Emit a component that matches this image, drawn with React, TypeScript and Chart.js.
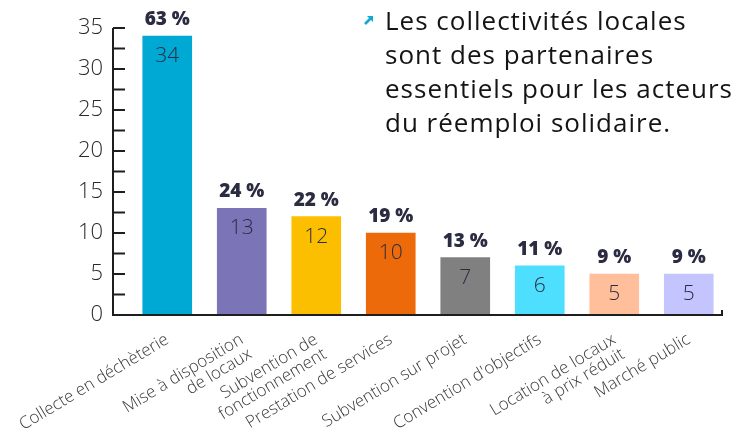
import React, { useEffect, useRef } from "react";
import { Chart, registerables } from "chart.js";

Chart.register(...registerables);

const categories: (string | string[])[] = [
  "Collecte en déchèterie",
  ["Mise à disposition", "de locaux"],
  ["Subvention de", "fonctionnement"],
  "Prestation de services",
  "Subvention sur projet",
  "Convention d'objectifs",
  ["Location de locaux", "à prix réduit"],
  "Marché public",
];
const counts = [34, 13, 12, 10, 7, 6, 5, 5];
const percents = [63, 24, 22, 19, 13, 11, 9, 9];
const barColors = [
  "#00A8D4",
  "#7B74B6",
  "#FBBF00",
  "#EC6A0A",
  "#808080",
  "#4EDFFF",
  "#FFBF9A",
  "#C4C4FE",
];
const headline = [
  "Les collectivités locales",
  "sont des partenaires",
  "essentiels pour les acteurs",
  "du réemploi solidaire.",
];
const yMin = 0;
const yMax = 35;
const yStep = 5;
const minorStep = 2.5;

const FONT = "'Open Sans', 'Noto Sans', sans-serif";
const DARK = "#2b2b42";

const overlayPlugin = {
  id: "overlay",
  afterDatasetsDraw(chart: any) {
    const { ctx, chartArea, scales } = chart;
    const y = scales.y;
    const meta = chart.getDatasetMeta(0);
    ctx.save();
    meta.data.forEach((bar: any, i: number) => {
      ctx.fillStyle = DARK;
      ctx.textAlign = "center";
      ctx.textBaseline = "alphabetic";
      ctx.font = `800 19px ${FONT}`;
      ctx.fillText(`${percents[i]} %`, bar.x, bar.y - 11);
      ctx.font = `300 21px ${FONT}`;
      ctx.textBaseline = "middle";
      ctx.fillText(String(counts[i]), bar.x, bar.y + 20);
    });
    // axes
    const ax = chartArea.left - 17;
    const y0 = y.getPixelForValue(yMin);
    const yTop = y.getPixelForValue(yMax);
    const xEnd = chartArea.right - 4;
    ctx.strokeStyle = "#1e1e1e";
    ctx.lineWidth = 2;
    ctx.beginPath();
    ctx.moveTo(ax, yTop);
    ctx.lineTo(ax, y0 + 1);
    ctx.stroke();
    for (let v = yMin; v <= yMax; v += minorStep) {
      const py = y.getPixelForValue(v);
      ctx.beginPath();
      ctx.moveTo(ax, py);
      ctx.lineTo(ax + 12, py);
      ctx.stroke();
    }
    ctx.beginPath();
    ctx.moveTo(ax, y0);
    ctx.lineTo(xEnd, y0);
    ctx.lineTo(xEnd, y0 - 5);
    ctx.stroke();
    ctx.restore();
  },
};

export default function App() {
  const canvasRef = useRef<HTMLCanvasElement | null>(null);

  useEffect(() => {
    document.body.style.margin = "0";
    const canvas = canvasRef.current;
    if (!canvas) return;
    const chart = new Chart(canvas, {
      type: "bar",
      data: {
        labels: categories,
        datasets: [
          {
            data: counts,
            backgroundColor: barColors,
            borderWidth: 0,
            barThickness: 49,
          },
        ],
      },
      options: {
        responsive: false,
        animation: false,
        layout: { padding: { top: 28, right: 12, left: 0, bottom: 0 } },
        plugins: {
          legend: { display: false },
          tooltip: { enabled: false },
          title: { display: false },
        },
        scales: {
          x: {
            grid: { display: false, drawTicks: false },
            border: { display: false },
            ticks: {
              autoSkip: false,
              maxRotation: 31,
              minRotation: 31,
              padding: 16,
              color: "#3a3a3a",
              font: { family: FONT, size: 17, weight: "300" as any, lineHeight: 1.0 },
            },
            afterFit: (s: any) => {
              s.height = 120;
              s.paddingLeft = 0;
              s.paddingRight = 0;
            },
          },
          y: {
            min: yMin,
            max: yMax,
            grid: { display: false, drawTicks: false },
            border: { display: false },
            ticks: {
              stepSize: yStep,
              padding: 27,
              color: "#2a2a2a",
              font: { family: FONT, size: 22, weight: "300" as any },
            },
            afterFit: (s: any) => {
              s.width = 130;
              s.paddingTop = 0;
              s.paddingBottom = 0;
            },
          },
        },
      },
      plugins: [overlayPlugin],
    });
    return () => chart.destroy();
  }, []);

  return (
    <div style={{ position: "relative", width: 738, height: 435, background: "#fff" }}>
      <canvas ref={canvasRef} width={738} height={435} style={{ position: "absolute", left: 0, top: 0 }} />
      <svg
        width="12"
        height="12"
        viewBox="0 0 12 12"
        style={{ position: "absolute", left: 363, top: 14 }}
      >
        <path d="M2 10 L9 3" stroke="#10A9D4" strokeWidth="2.6" />
        <path d="M4 2 L10 2 L10 8 Z" fill="#10A9D4" />
      </svg>
      <div
        style={{
          position: "absolute",
          left: 385,
          top: 3,
          fontFamily: FONT,
          fontSize: 26,
          letterSpacing: "1px",
          lineHeight: "34px",
          color: "#141414",
          whiteSpace: "nowrap",
        }}
      >
        {headline.map((l, i) => (
          <div key={i}>{l}</div>
        ))}
      </div>
    </div>
  );
}
